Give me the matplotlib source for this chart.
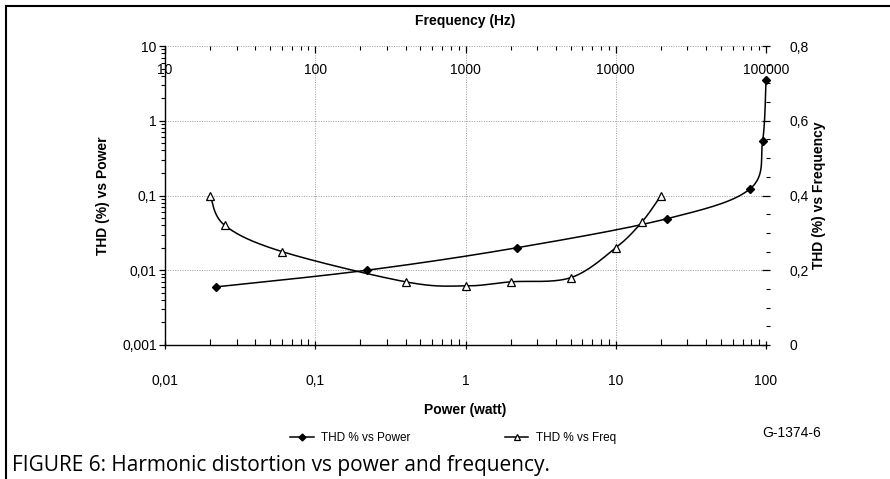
import numpy as np
import matplotlib
matplotlib.use("Agg")
import matplotlib.pyplot as plt
from matplotlib.lines import Line2D
from matplotlib.ticker import FixedLocator, NullFormatter, LogLocator, MultipleLocator

# ---------------- data ----------------
power_w = [0.022, 0.22, 2.2, 22, 78, 95, 100]
thd_power = [0.006, 0.010, 0.020, 0.049, 0.122, 0.54, 3.5]

freq_hz = [20, 25, 60, 400, 1000, 2000, 5000, 10000, 15000, 20000]
thd_freq = [0.40, 0.32, 0.25, 0.169, 0.158, 0.169, 0.18, 0.26, 0.33, 0.40]

power_ticks = [0.01, 0.1, 1, 10, 100]
power_labels = ["0,01", "0,1", "1", "10", "100"]
thdp_ticks = [0.001, 0.01, 0.1, 1, 10]
thdp_labels = ["0,001", "0,01", "0,1", "1", "10"]
freq_ticks = [10, 100, 1000, 10000, 100000]
freq_labels = ["10", "100", "1000", "10000", "100000"]
thdf_ticks = [0, 0.2, 0.4, 0.6, 0.8]
thdf_labels = ["0", "0,2", "0,4", "0,6", "0,8"]

plt.rcParams['font.family'] = ['Liberation Sans', 'DejaVu Sans']

W, H = 890, 479
fig = plt.figure(figsize=(W / 100, H / 100), dpi=100)

pos = [165 / W, 1 - 345 / H, (766 - 165) / W, (345 - 46) / H]
ax = fig.add_axes(pos)
axf = fig.add_axes(pos, frameon=False)
axf.patch.set_visible(False)

# power axes (bottom / left)
ax.set_xscale('log')
ax.set_yscale('log')
ax.set_xlim(power_ticks[0], power_ticks[-1])
ax.set_ylim(thdp_ticks[0], thdp_ticks[-1])
ax.xaxis.set_major_locator(FixedLocator(power_ticks))
ax.set_xticklabels(power_labels)
ax.yaxis.set_major_locator(FixedLocator(thdp_ticks))
ax.set_yticklabels(thdp_labels)
ax.xaxis.set_minor_locator(LogLocator(base=10, subs=np.arange(2, 10)))
ax.yaxis.set_minor_locator(LogLocator(base=10, subs=np.arange(2, 10)))
ax.xaxis.set_minor_formatter(NullFormatter())
ax.yaxis.set_minor_formatter(NullFormatter())
ax.tick_params(axis='x', which='major', direction='inout', length=6, width=0.9, labelsize=10, pad=18)
ax.tick_params(axis='x', which='minor', direction='in', length=4, width=0.8)
ax.tick_params(axis='y', which='major', direction='out', length=4, width=0.9, labelsize=10, pad=2)
ax.tick_params(axis='y', which='minor', direction='out', length=3, width=0.8)
ax.grid(True, which='major', linestyle=(0, (1, 1.5)), color='#9a9a9a', linewidth=0.7)
for s in ['top', 'right']:
    ax.spines[s].set_visible(False)
for s in ['bottom', 'left']:
    ax.spines[s].set_linewidth(1.0)
ax.set_xlabel("Power (watt)", fontsize=10, fontweight='bold', labelpad=11)
ax.set_ylabel("THD (%) vs Power", fontsize=10, fontweight='bold', labelpad=9)

# frequency axes (top / right)
axf.set_xscale('log')
axf.set_xlim(freq_ticks[0], freq_ticks[-1])
axf.set_ylim(thdf_ticks[0], thdf_ticks[-1])
axf.xaxis.tick_top()
axf.xaxis.set_label_position('top')
axf.yaxis.tick_right()
axf.yaxis.set_label_position('right')
axf.xaxis.set_major_locator(FixedLocator(freq_ticks))
axf.set_xticklabels(freq_labels)
axf.yaxis.set_major_locator(FixedLocator(thdf_ticks))
axf.set_yticklabels(thdf_labels)
axf.xaxis.set_minor_locator(LogLocator(base=10, subs=np.arange(2, 10)))
axf.xaxis.set_minor_formatter(NullFormatter())
axf.yaxis.set_minor_locator(MultipleLocator(0.05))
axf.tick_params(axis='x', which='major', direction='in', length=5, width=0.9, labelsize=10, pad=-22)
axf.tick_params(axis='x', which='minor', direction='in', length=3, width=0.8)
axf.tick_params(axis='y', which='major', direction='inout', length=6, width=0.9, labelsize=10, pad=14)
axf.tick_params(axis='y', which='minor', direction='out', length=3, width=0.8)
for s in ['left', 'bottom']:
    axf.spines[s].set_visible(False)
axf.spines['top'].set_visible(True)
axf.spines['right'].set_visible(True)
axf.spines['top'].set_linewidth(1.0)
axf.spines['right'].set_linewidth(1.0)
axf.set_xlabel("Frequency (Hz)", fontsize=10, fontweight='bold', labelpad=12)
axf.set_ylabel("THD (%) vs Frequency", fontsize=10, fontweight='bold', labelpad=2.5)


def smooth_display(a, xs, ys, n=30):
    pts = a.transData.transform(np.column_stack([xs, ys]))
    P = np.vstack([pts[0], pts, pts[-1]])
    out = []
    for i in range(1, len(P) - 2):
        p0, p1, p2, p3 = P[i - 1], P[i], P[i + 1], P[i + 2]
        t = np.linspace(0, 1, n)[:, None]
        seg = 0.5 * ((2 * p1) + (-p0 + p2) * t + (2 * p0 - 5 * p1 + 4 * p2 - p3) * t ** 2
                     + (-p0 + 3 * p1 - 3 * p2 + p3) * t ** 3)
        out.append(seg)
    out = np.vstack(out)
    d = a.transData.inverted().transform(out)
    return d[:, 0], d[:, 1]


sx, sy = smooth_display(ax, power_w, thd_power)
ax.plot(sx, sy, color='black', linewidth=1.1, clip_on=False, zorder=3)
ax.plot(power_w, thd_power, linestyle='none', marker='D', markersize=4,
        color='black', clip_on=False, zorder=4)

fx, fy = smooth_display(axf, freq_hz, thd_freq)
axf.plot(fx, fy, color='black', linewidth=1.1, clip_on=False, zorder=3)
axf.plot(freq_hz, thd_freq, linestyle='none', marker='^', markersize=5.5,
         markerfacecolor='white', markeredgecolor='black', markeredgewidth=0.9,
         clip_on=False, zorder=4)

handles = [
    Line2D([], [], color='black', linewidth=1.1, marker='D', markersize=3.5),
    Line2D([], [], color='black', linewidth=1.1, marker='^', markersize=5,
           markerfacecolor='white', markeredgewidth=0.9),
]
fig.legend(handles, ["THD % vs Power", "THD % vs Freq"], loc='center',
           bbox_to_anchor=(453 / W, 1 - 438 / H), ncol=2, frameon=False,
           fontsize=8.5, handlelength=2.0, handletextpad=0.6, columnspacing=8.0)

fig.text(762 / W, 1 - 433 / H, "G-1374-6", fontsize=10, ha='left', va='center')
fig.text(12 / W, 1 - 465 / H, "FIGURE 6: Harmonic distortion vs power and frequency.",
         fontsize=15, ha='left', va='center', family=['Open Sans', 'DejaVu Sans'])

# frame lines (top and left)
fig.add_artist(Line2D([6 / W, 1], [1 - 6 / H, 1 - 6 / H], color='black', linewidth=1.5))
fig.add_artist(Line2D([6 / W, 6 / W], [0, 1 - 6 / H], color='black', linewidth=1.5))

fig.savefig("out.png", dpi=100)
